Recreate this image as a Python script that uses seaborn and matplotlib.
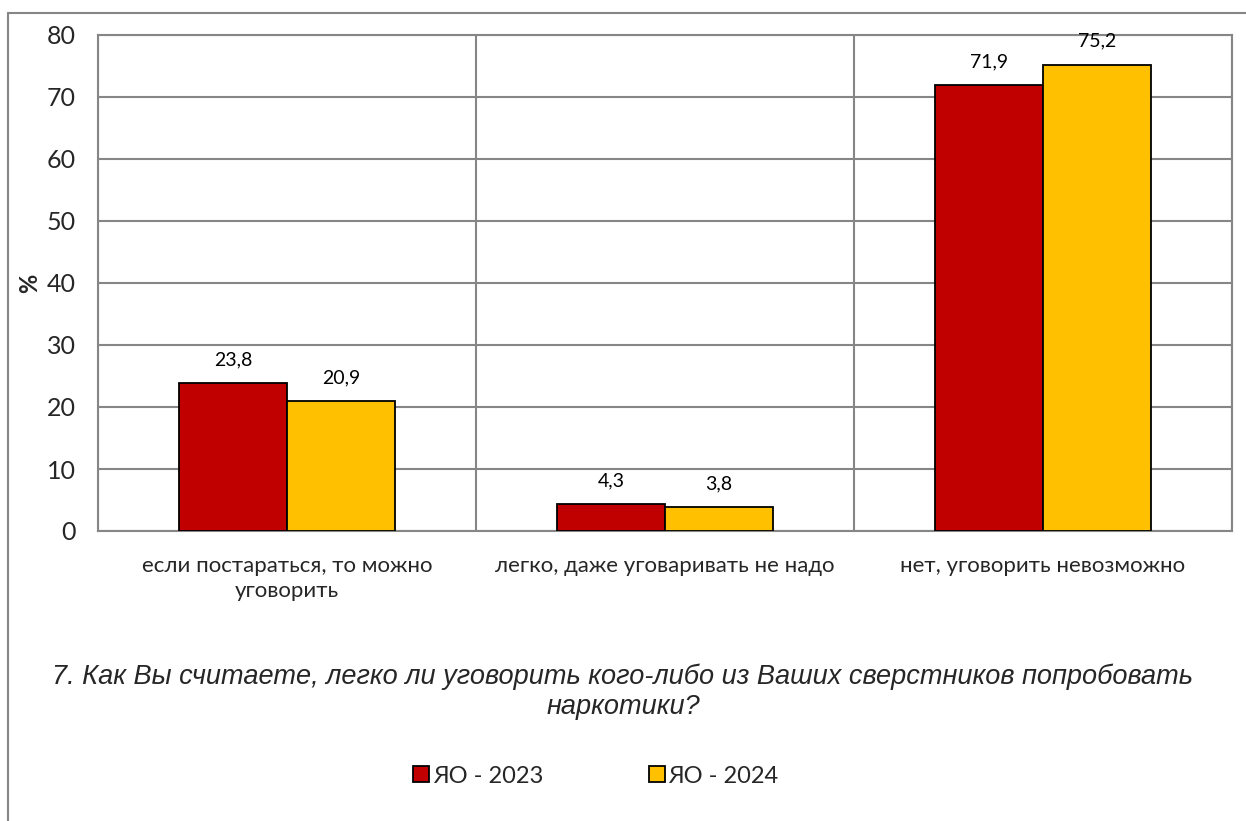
import pandas as pd
import matplotlib.pyplot as plt
import seaborn as sns
from matplotlib.lines import Line2D

# ------------------------------------------
# Data
# ------------------------------------------
categories = [
    "если постараться, то можно\nуговорить",
    "легко, даже уговаривать не надо",
    "нет, уговорить невозможно",
]
series_names = ["ЯО - 2023", "ЯО - 2024"]
values_2023 = [23.8, 4.3, 71.9]
values_2024 = [20.9, 3.8, 75.2]
y_ticks = [0, 10, 20, 30, 40, 50, 60, 70, 80]

df = pd.DataFrame({
    "Category": categories * 2,
    "Series": [series_names[0]] * 3 + [series_names[1]] * 3,
    "Value": values_2023 + values_2024,
})

colors = ["#C00000", "#FFC000"]
grid_color = "#868686"

sns.set_style("white")
plt.rcParams["font.family"] = ["Lato", "DejaVu Sans"]

fig = plt.figure(figsize=(12.46, 8.21), dpi=100)
ax = fig.add_axes([98 / 1246, 1 - 531 / 821, (1232 - 98) / 1246, (531 - 35) / 821])

# ------------------------------------------
# Bars
# ------------------------------------------
sns.barplot(
    data=df, x="Category", y="Value", hue="Series",
    palette=colors, saturation=1, width=0.572, edgecolor="black",
    linewidth=1.3, legend=False, ax=ax, zorder=3,
)

# data labels
for container in ax.containers:
    ax.bar_label(
        container,
        labels=[f"{v:.1f}".replace(".", ",") for v in container.datavalues],
        padding=11, fontsize=14, color="#000000",
    )

# ------------------------------------------
# Axes styling
# ------------------------------------------
ax.set_ylim(0, 80)
ax.set_xlim(-0.5, len(categories) - 0.5)
ax.set_yticks(y_ticks)
ax.set_yticklabels([str(t) for t in y_ticks], fontsize=18)
ax.set_xticks(range(len(categories)))
ax.set_xticklabels(categories, fontsize=16, linespacing=1.3)
ax.tick_params(axis="x", length=0, pad=18)
ax.set_xticks([i - 0.5 for i in range(len(categories) + 1)], minor=True)
ax.tick_params(axis="x", which="minor", length=7, color=grid_color, width=1.5)
ax.tick_params(axis="y", length=8, color=grid_color, width=1.5, pad=8)

ax.grid(axis="y", color=grid_color, linewidth=1.5, zorder=0)
ax.grid(axis="x", which="minor", color=grid_color, linewidth=1.5, zorder=0)
for s in ax.spines.values():
    s.set_color(grid_color)
    s.set_linewidth(1.5)

ax.set_xlabel("")
ax.set_ylabel("%", fontsize=17, fontweight="bold")
ax.yaxis.set_label_coords((41 - 98) / 1134, 0.5)

# ------------------------------------------
# Title below the chart
# ------------------------------------------
fig.text(
    623 / 1246, 1 - 692 / 821,
    "7. Как Вы считаете, легко ли уговорить кого-либо из Ваших сверстников попробовать\nнаркотики?",
    ha="center", va="center", fontsize=19.5, style="italic",
    family="Liberation Sans", linespacing=1.2,
)

# ------------------------------------------
# Legend
# ------------------------------------------
handles = [
    Line2D([0], [0], marker="s", linestyle="", markersize=12,
           markerfacecolor=c, markeredgecolor="black", markeredgewidth=1.3)
    for c in colors
]
fig.legend(
    handles, series_names, loc="center",
    bbox_to_anchor=(594 / 1246, 1 - 776 / 821), ncol=2, frameon=False,
    fontsize=17, handletextpad=0.0, columnspacing=4.3, handlelength=1.0,
)

# outer chart frame
fig.add_artist(Line2D([8 / 1246, 1], [1 - 13 / 821, 1 - 13 / 821],
                      color=grid_color, linewidth=1.5))
fig.add_artist(Line2D([8 / 1246, 8 / 1246], [0, 1 - 13 / 821],
                      color=grid_color, linewidth=1.5))

plt.savefig("out.png", dpi=100)
